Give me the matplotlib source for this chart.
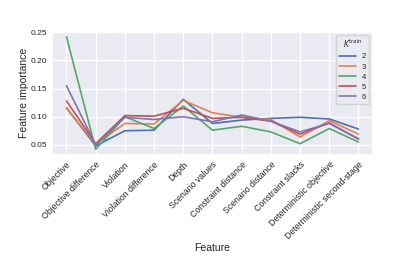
import matplotlib
matplotlib.use("Agg")
import matplotlib.pyplot as plt
import seaborn as sns

features = ["Objective", "Objective difference", "Violation", "Violation difference",
            "Depth", "Scenario values", "Constraint distance", "Scenario distance",
            "Constraint slacks", "Deterministic objective", "Deterministic second-stage"]
k_train = ["2", "3", "4", "5", "6"]

imp_k2 = [0.116, 0.048, 0.075, 0.076, 0.131, 0.088, 0.094, 0.097, 0.099, 0.096, 0.078]
imp_k3 = [0.115, 0.051, 0.088, 0.087, 0.129, 0.107, 0.099, 0.095, 0.064, 0.093, 0.069]
imp_k4 = [0.242, 0.042, 0.100, 0.079, 0.119, 0.076, 0.083, 0.073, 0.052, 0.079, 0.055]
imp_k5 = [0.128, 0.052, 0.102, 0.101, 0.115, 0.097, 0.099, 0.092, 0.069, 0.089, 0.060]
imp_k6 = [0.155, 0.050, 0.099, 0.095, 0.100, 0.091, 0.103, 0.092, 0.073, 0.088, 0.061]

sns.set_theme(style="darkgrid")
plt.rcParams["font.family"] = ["Liberation Sans", "DejaVu Sans"]

fig, ax = plt.subplots(figsize=(4.15, 2.6), dpi=100)
fig.subplots_adjust(left=0.125, right=0.899, top=0.88, bottom=0.404)

for k, vals in zip(k_train, [imp_k2, imp_k3, imp_k4, imp_k5, imp_k6]):
    ax.plot(features, vals, label=k, linewidth=1.2)

ax.set_xlabel("Feature", fontsize=7.5)
ax.set_ylabel("Feature importance", fontsize=7.5)
ax.xaxis.set_label_coords(0.5, -0.71)
ax.yaxis.set_label_coords(-0.072, 0.5)
ax.tick_params(axis="both", labelsize=6, length=0, pad=3.5)
ax.tick_params(axis="x", labelsize=6.3)
ax.set_xticks(range(len(features)))
ax.set_xticklabels(features, rotation=45, ha="right", rotation_mode="anchor")
ax.set_yticks([0.05, 0.10, 0.15, 0.20, 0.25])
leg = ax.legend(title=r"$K^{\mathrm{train}}$", loc="upper right", fontsize=5.5,
                title_fontsize=5.5, handlelength=2.2, labelspacing=0.35)

plt.savefig("out.png", dpi=100)
